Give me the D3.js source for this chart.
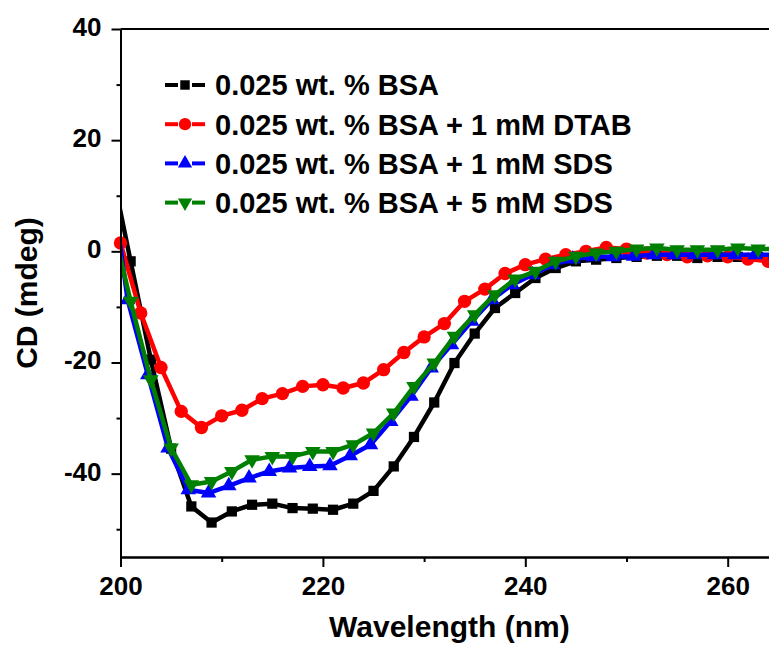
<!DOCTYPE html>
<html>
<head>
<meta charset="utf-8">
<script src="https://cdn.jsdelivr.net/npm/d3@7"></script>
<style>
  body { margin: 0; background: #fff; }
  text { font-family: "Liberation Sans", Arial, sans-serif; font-weight: bold; fill: #000; }
</style>
</head>
<body>
<svg id="chart" width="769" height="646"></svg>
<script>
// wavelengths (nm) and CD (mdeg), one pair of arrays per sample
const bsaX = [199, 201, 203, 205, 207, 209, 211, 213, 215, 217, 219, 221, 223, 225, 227, 229, 231, 233, 235, 237, 239, 241, 243, 245, 247, 249, 251, 253, 255, 257, 259, 261, 263, 265]
const bsaY = [16, -1.8, -19.5, -35.5, -45.9, -48.8, -46.8, -45.6, -45.4, -46.2, -46.3, -46.5, -45.4, -43.1, -38.7, -33.4, -27.2, -20.1, -14.8, -10.2, -7.5, -4.8, -3.0, -1.8, -1.5, -1.2, -1.0, -0.8, -0.8, -1.2, -1.0, -1.0, -1.0, -1.0]

const dtabX = [198, 200, 202, 204, 206, 208, 210, 212, 214, 216, 218, 220, 222, 224, 226, 228, 230, 232, 234, 236, 238, 240, 242, 244, 246, 248, 250, 252, 254, 256, 258, 260, 262, 264]
const dtabY = [20, 1.5, -11.1, -20.9, -28.8, -31.7, -29.6, -28.6, -26.5, -25.6, -24.3, -24.0, -24.6, -23.7, -21.3, -18.2, -15.4, -13.0, -9.0, -6.8, -4.0, -2.4, -1.4, -0.6, 0.0, 0.7, 0.4, -0.3, -0.6, -1.0, -0.8, -1.0, -1.4, -1.8]

const sds1X = [198.7, 200.7, 202.7, 204.7, 206.7, 208.7, 210.7, 212.7, 214.7, 216.7, 218.7, 220.7, 222.7, 224.7, 226.7, 228.7, 230.7, 232.7, 234.7, 236.7, 238.7, 240.7, 242.7, 244.7, 246.7, 248.7, 250.7, 252.7, 254.7, 256.7, 258.7, 260.7, 262.7, 264.7]
const sds1Y = [18, -8.7, -22.2, -35.4, -42.9, -43.5, -42.2, -40.8, -39.6, -39.0, -38.7, -38.6, -36.8, -34.8, -30.6, -26.1, -21.0, -16.8, -12.6, -8.7, -6.0, -4.2, -2.4, -1.4, -1.0, -1.0, -0.9, -0.6, -0.6, -0.6, -0.6, -0.6, -0.6, -0.6]

const sds5X = [199, 201, 203, 205, 207, 209, 211, 213, 215, 217, 219, 221, 223, 225, 227, 229, 231, 233, 235, 237, 239, 241, 243, 245, 247, 249, 251, 253, 255, 257, 259, 261, 263, 265]
const sds5Y = [6.5, -9.0, -23.1, -35.4, -42.0, -41.4, -39.6, -37.5, -36.9, -36.9, -36.0, -36.0, -34.8, -32.7, -29.1, -24.3, -20.1, -15.3, -11.4, -7.8, -5.0, -3.6, -1.8, -0.9, -0.3, 0.0, 0.4, 0.6, 0.3, 0.3, 0.3, 0.6, 0.4, 0.4]

const seriesNames = ['0.025 wt. % BSA', '0.025 wt. % BSA + 1 mM DTAB', '0.025 wt. % BSA + 1 mM SDS', '0.025 wt. % BSA + 5 mM SDS']
const xMajorTicks = [200, 220, 240, 260]
const xMinorTicks = [210, 230, 250]
const yMajorTicks = [-40, -20, 0, 20, 40]
const yMinorTicks = [-50, -30, -10, 10, 30]

const svg = d3.select('#chart')

const x = d3.scaleLinear().domain([200, 265]).range([120.5, 778.3])
const y = d3.scaleLinear().domain([-55, 40]).range([557, 29])

const series = [
    {name: seriesNames[0], xs: bsaX, ys: bsaY, color: '#000000', shape: 'square'},
    {name: seriesNames[1], xs: dtabX, ys: dtabY, color: '#ff0000', shape: 'circle'},
    {name: seriesNames[2], xs: sds1X, ys: sds1Y, color: '#0000ff', shape: 'up'},
    {name: seriesNames[3], xs: sds5X, ys: sds5Y, color: '#008000', shape: 'down'}
]

function symbolPath(shape, k) {
    k = k || 1
    if (shape === 'square') return d3.symbol().type(d3.symbolSquare).size(105 * k)()
    if (shape === 'circle') return d3.symbol().type(d3.symbolCircle).size(140 * k)()
    return d3.symbol().type(d3.symbolTriangle).size(105 * k)()
}
function symbolTransform(shape, px, py) {
    return 'translate(' + px + ',' + py + ')' + (shape === 'down' ? ' rotate(180)' : '')
}

svg.append('clipPath').attr('id', 'plotClip')
    .append('rect')
    .attr('x', x(200)).attr('y', y(40))
    .attr('width', x(265) - x(200)).attr('height', y(-55) - y(40))

const line = d3.line()
    .x(d => x(d[0]))
    .y(d => y(d[1]))

// curves
series.forEach(s => {
    const pts = s.xs.map((v, i) => [v, s.ys[i]])
    const g = svg.append('g')
    g.append('path')
        .datum(pts)
        .attr('clip-path', 'url(#plotClip)')
        .attr('d', line)
        .attr('fill', 'none')
        .attr('stroke', s.color)
        .attr('stroke-width', 4.5)
        .attr('stroke-linejoin', 'round')
    g.selectAll('path.mark')
        .data(pts.filter(d => d[0] >= 200))
        .enter()
        .append('path')
        .attr('class', 'mark')
        .attr('d', symbolPath(s.shape))
        .attr('transform', d => symbolTransform(s.shape, x(d[0]), y(d[1])))
        .attr('fill', s.color)
})

// axes
const axisStyle = g => {
    g.selectAll('path.domain').attr('stroke', '#000').attr('stroke-width', 2)
    g.selectAll('line').attr('stroke', '#000').attr('stroke-width', 2)
    g.selectAll('text').style('font-size', '26px')
}

svg.append('g')
    .attr('transform', 'translate(0,' + y(-55) + ')')
    .call(d3.axisBottom(x).tickValues(xMinorTicks).tickSize(5).tickSizeOuter(0).tickFormat(''))
    .call(axisStyle)
svg.append('g')
    .attr('transform', 'translate(0,' + y(-55) + ')')
    .call(d3.axisBottom(x).tickValues(xMajorTicks).tickSize(10).tickSizeOuter(0).tickPadding(10).tickFormat(d => String(d)))
    .call(axisStyle)

svg.append('g')
    .attr('transform', 'translate(' + x(200) + ',0)')
    .call(d3.axisLeft(y).tickValues(yMinorTicks).tickSize(4).tickSizeOuter(0).tickFormat(''))
    .call(axisStyle)
svg.append('g')
    .attr('transform', 'translate(' + x(200) + ',0)')
    .call(d3.axisLeft(y).tickValues(yMajorTicks).tickSize(9).tickSizeOuter(0).tickPadding(10).tickFormat(d => String(d)))
    .call(axisStyle)
    .call(g => g.selectAll('text').attr('dy', '0.25em'))

// frame top and right
svg.append('line')
    .attr('x1', x(200)).attr('x2', x(265)).attr('y1', y(40)).attr('y2', y(40))
    .attr('stroke', '#000').attr('stroke-width', 2)
svg.append('line')
    .attr('x1', x(265)).attr('x2', x(265)).attr('y1', y(40)).attr('y2', y(-55))
    .attr('stroke', '#000').attr('stroke-width', 2)

// axis titles
svg.append('text')
    .attr('x', (x(200) + x(265)) / 2)
    .attr('y', 637)
    .attr('text-anchor', 'middle')
    .style('font-size', '30px')
    .text('Wavelength (nm)')
svg.append('text')
    .attr('transform', 'translate(37,' + (y(-55) + y(40)) / 2 + ') rotate(-90)')
    .attr('text-anchor', 'middle')
    .style('font-size', '30px')
    .text('CD (mdeg)')

// legend
const legend = svg.append('g').attr('transform', 'translate(165,85)')
series.forEach((s, i) => {
    const row = legend.append('g').attr('transform', 'translate(0,' + i * 39.2 + ')')
    row.append('line').attr('x1', 0).attr('x2', 13).attr('y1', 0).attr('y2', 0)
        .attr('stroke', s.color).attr('stroke-width', 4)
    row.append('line').attr('x1', 27).attr('x2', 40).attr('y1', 0).attr('y2', 0)
        .attr('stroke', s.color).attr('stroke-width', 4)
    row.append('path')
        .attr('d', symbolPath(s.shape, 0.85))
        .attr('transform', symbolTransform(s.shape, 20, 0))
        .attr('fill', s.color)
    row.append('text')
        .attr('x', 50)
        .attr('y', 0)
        .attr('dy', '0.36em')
        .style('font-size', '29px')
        .text(s.name)
})
</script>
</body>
</html>
